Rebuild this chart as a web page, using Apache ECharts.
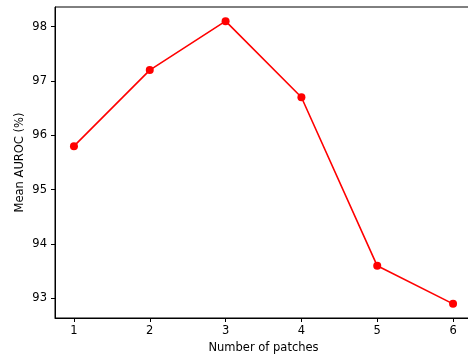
<!DOCTYPE html>
<html>
<head>
<meta charset="utf-8">
<script src="https://cdn.jsdelivr.net/npm/echarts@6/dist/echarts.min.js"></script>
<style>
html,body{margin:0;padding:0;background:#fff;}
#chart{width:468px;height:358px;}
</style>
</head>
<body>
<div id="chart"></div>
<script>
const patches = [1, 2, 3, 4, 5, 6];
const meanAuroc = [95.8, 97.2, 98.1, 96.7, 93.6, 92.9];
const yTicks = [93, 94, 95, 96, 97, 98];
const xTicks = [1, 2, 3, 4, 5, 6];

const chart = echarts.init(document.getElementById('chart'), null, {renderer: 'canvas'});
const font = 'DejaVu Sans';
const txt = '#000';
chart.setOption({
  animation: false,
  backgroundColor: '#fff',
  grid: {left: 55, top: 7, width: 417, height: 311, show: true, borderColor: '#000', borderWidth: 1, backgroundColor: 'transparent', outerBoundsMode: 'none', containLabel: false},
  xAxis: {
    type: 'value', min: 0.75, max: 6.25,
    name: 'Number of patches', nameLocation: 'middle', nameGap: 24, nameMoveOverlap: false,
    nameTextStyle: {fontFamily: font, fontSize: 11.5, color: txt},
    axisLine: {show: true, onZero: false, lineStyle: {color: '#000', width: 1}},
    axisTick: {show: true, length: 4, lineStyle: {color: '#000'}, customValues: xTicks},
    axisLabel: {fontFamily: font, fontSize: 11.5, color: txt, margin: 7, customValues: xTicks},
    splitLine: {show: false}
  },
  yAxis: {
    type: 'value', min: 92.64, max: 98.36,
    name: 'Mean AUROC (%)', nameLocation: 'middle', nameGap: 29, nameRotate: 90, nameMoveOverlap: false,
    nameTextStyle: {fontFamily: font, fontSize: 11.5, color: txt},
    axisLine: {show: true, onZero: false, lineStyle: {color: '#000', width: 1}},
    axisTick: {show: true, length: 4, lineStyle: {color: '#000'}, customValues: yTicks},
    axisLabel: {fontFamily: font, fontSize: 11.5, color: txt, margin: 8, customValues: yTicks},
    splitLine: {show: false}
  },
  series: [{
    type: 'line',
    data: patches.map((p, i) => [p, meanAuroc[i]]),
    symbol: 'circle', symbolSize: 8,
    lineStyle: {color: '#ff0000', width: 1.6},
    itemStyle: {color: '#ff0000'},
    clip: false
  }]
});
</script>
</body>
</html>
